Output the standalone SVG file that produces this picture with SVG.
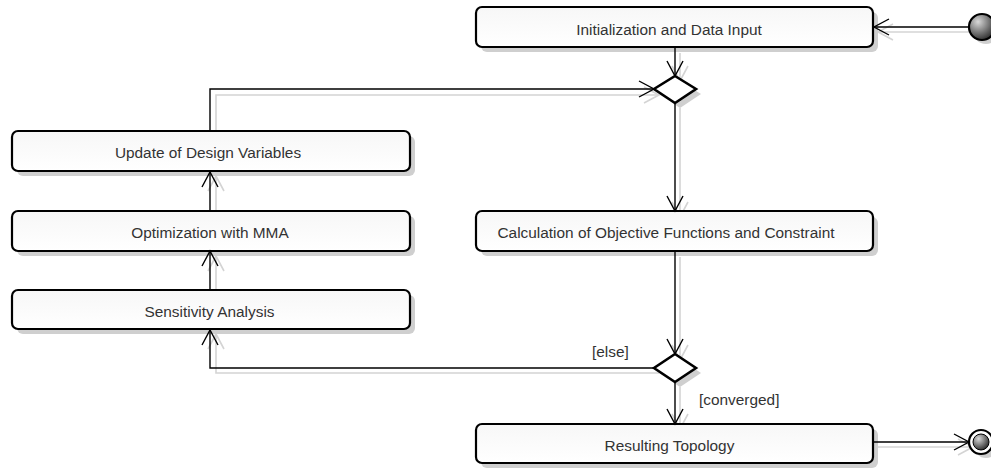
<svg xmlns="http://www.w3.org/2000/svg" width="991" height="468" viewBox="0 0 991 468">
<style>
.box{fill:url(#bg);stroke:#000;stroke-width:2.2}
.sh{fill:#cfcfcf;stroke:none}
.lbl{font-family:"Liberation Sans",Arial,sans-serif;font-size:15.4px;fill:#333;text-anchor:middle}
.glbl{font-family:"Liberation Sans",Arial,sans-serif;font-size:15.4px;fill:#333}
.c{fill:none;stroke:#000;stroke-width:1.4;marker-end:url(#ah)}
.cs{fill:none;stroke:#d4d4d4;stroke-width:1.6;marker-end:url(#ahs)}
.dia{fill:#fff;stroke:#000;stroke-width:2.6}
</style>
<defs>
<linearGradient id="bg" x1="0" y1="0" x2="0" y2="1">
<stop offset="0" stop-color="#f7f7f7"/>
<stop offset="1" stop-color="#ffffff"/>
</linearGradient>
<radialGradient id="ball" cx="0.35" cy="0.3" r="0.75">
<stop offset="0" stop-color="#d8d8d8"/>
<stop offset="1" stop-color="#2a2a2a"/>
</radialGradient>
<marker id="ah" markerUnits="userSpaceOnUse" viewBox="-16 -10 18 20" markerWidth="18" markerHeight="20" refX="0" refY="0" orient="auto" overflow="visible">
<path d="M-15,-8 L0,0 L-15,8" fill="none" stroke="#000" stroke-width="1.4"/>
</marker>
<marker id="ahs" markerUnits="userSpaceOnUse" viewBox="-16 -10 18 20" markerWidth="18" markerHeight="20" refX="0" refY="0" orient="auto" overflow="visible">
<path d="M-15,-8 L0,0 L-15,8" fill="none" stroke="#d4d4d4" stroke-width="1.6"/>
</marker>
</defs>

<g id="connector-shadows">
<path class="cs" d="M973,32 L878,32"/>
<path class="cs" d="M680,53 L680,81"/>
<path class="cs" d="M216,136 L216,95 L659,95"/>
<path class="cs" d="M680,108 L680,217"/>
<path class="cs" d="M680,257 L680,360"/>
<path class="cs" d="M659,373 L216,373 L216,334"/>
<path class="cs" d="M680,387 L680,429"/>
<path class="cs" d="M216,295 L216,256"/>
<path class="cs" d="M216,216 L216,176"/>
<path class="cs" d="M878,447 L973,447"/>
</g>

<g id="start">
<circle cx="986" cy="31" r="13" class="sh"/>
<circle cx="982" cy="27" r="13" fill="url(#ball)" stroke="#000" stroke-width="2.2"/>
</g>

<g id="init">
<rect x="481" y="12" width="397" height="40" rx="6" class="sh"/>
<rect x="476" y="7" width="397" height="40" rx="6" class="box"/>
<text x="669" y="34.5" class="lbl">Initialization and Data Input</text>
</g>

<g id="merge">
<polygon points="680,81 701,94 680,108 659,94" class="sh"/>
<polygon points="675,76 696,89 675,103 654,89" class="dia"/>
</g>

<g id="update">
<rect x="17" y="136" width="398" height="40" rx="6" class="sh"/>
<rect x="12" y="131" width="398" height="40" rx="6" class="box"/>
<text x="208" y="158" class="lbl">Update of Design Variables</text>
</g>

<g id="optimization">
<rect x="17" y="216" width="398" height="40" rx="6" class="sh"/>
<rect x="12" y="211" width="398" height="40" rx="6" class="box"/>
<text x="210" y="238" class="lbl">Optimization with MMA</text>
</g>

<g id="sensitivity">
<rect x="17" y="295" width="398" height="39" rx="6" class="sh"/>
<rect x="12" y="290" width="398" height="39" rx="6" class="box"/>
<text x="209.5" y="317" class="lbl">Sensitivity Analysis</text>
</g>

<g id="calculation">
<rect x="481" y="217" width="397" height="39" rx="6" class="sh"/>
<rect x="476" y="211" width="397" height="40" rx="6" class="box"/>
<text x="666" y="238" class="lbl">Calculation of Objective Functions and Constraint</text>
</g>

<g id="decision">
<polygon points="680,359 701,373 680,387 659,373" class="sh"/>
<polygon points="675,354 696,368 675,382 654,368" class="dia"/>
</g>

<g id="result">
<rect x="481" y="429" width="397" height="39" rx="6" class="sh"/>
<rect x="476" y="424" width="397" height="39" rx="6" class="box"/>
<text x="669.5" y="451" class="lbl">Resulting Topology</text>
</g>

<g id="end">
<circle cx="986" cy="446" r="12" class="sh"/>
<circle cx="981" cy="442" r="12" fill="#fff" stroke="#000" stroke-width="2.2"/>
<circle cx="981" cy="442" r="8" fill="url(#ball)" stroke="#000" stroke-width="1"/>
</g>

<g id="connectors">
<path class="c" d="M969,27 L874,27"/>
<path class="c" d="M675,48 L675,76"/>
<path class="c" d="M210,131 L210,89 L654,89"/>
<path class="c" d="M675,103 L675,211"/>
<path class="c" d="M675,252 L675,354"/>
<path class="c" d="M654,368 L210,368 L210,330"/>
<path class="c" d="M675,382 L675,424"/>
<path class="c" d="M210,290 L210,251"/>
<path class="c" d="M210,211 L210,172"/>
<path class="c" d="M874,442 L969,442"/>
<text x="592" y="357" class="glbl">[else]</text>
<text x="699" y="405" class="glbl">[converged]</text>
</g>
</svg>
